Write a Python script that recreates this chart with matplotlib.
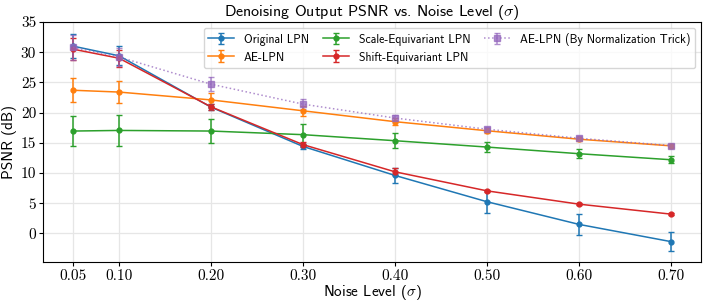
import matplotlib
matplotlib.use("Agg")
import matplotlib.pyplot as plt
import numpy as np

sigma = [0.05, 0.10, 0.20, 0.30, 0.40, 0.50, 0.60, 0.70]
tick_labels = ["0.05", "0.10", "0.20", "0.30", "0.40", "0.50", "0.60", "0.70"]

orig_mean = [31.0, 29.4, 20.9, 14.4, 9.6, 5.25, 1.5, -1.35]
orig_std = [2.0, 1.6, 0.5, 0.4, 1.25, 1.8, 1.75, 1.6]

ae_mean = [23.7, 23.4, 22.1, 20.3, 18.5, 17.0, 15.6, 14.5]
ae_std = [2.0, 1.8, 1.1, 0.8, 0.6, 0.4, 0.3, 0.3]

scale_mean = [16.95, 17.05, 16.95, 16.35, 15.35, 14.3, 13.2, 12.2]
scale_std = [2.5, 2.5, 2.0, 1.7, 1.2, 0.9, 0.7, 0.55]

shift_mean = [30.5, 29.0, 20.95, 14.7, 10.2, 7.05, 4.85, 3.2]
shift_std = [1.8, 1.4, 0.5, 0.4, 0.6, 0.2, 0.15, 0.15]

norm_mean = [30.8, 29.2, 24.7, 21.4, 19.1, 17.25, 15.75, 14.55]
norm_std = [2.1, 1.5, 1.15, 0.85, 0.5, 0.4, 0.3, 0.3]

plt.rcParams['mathtext.fontset'] = 'cm'
plt.rcParams['axes.unicode_minus'] = False

fig, ax = plt.subplots(figsize=(7.08, 3.01), dpi=100)
fig.subplots_adjust(left=0.061, right=0.99, top=0.927, bottom=0.13)

kw = dict(marker='o', markersize=3.5, capsize=2.5, linewidth=1.1, elinewidth=1.1)
ax.errorbar(sigma, orig_mean, yerr=orig_std, color='#1f77b4', label='Original LPN', **kw)
ax.errorbar(sigma, ae_mean, yerr=ae_std, color='#ff7f0e', label='AE-LPN', **kw)
ax.errorbar(sigma, scale_mean, yerr=scale_std, color='#2ca02c', label='Scale-Equivariant LPN', **kw)
ax.errorbar(sigma, shift_mean, yerr=shift_std, color='#d62728', label='Shift-Equivariant LPN', **kw)
ax.errorbar(sigma, norm_mean, yerr=norm_std, color='#9467bd', label='AE-LPN (By Normalization Trick)',
            marker='s', markersize=4, capsize=2.5, linewidth=1.1, elinewidth=1.1,
            linestyle=':', alpha=0.75)

ax.set_xticks(sigma)
ax.set_xticklabels(tick_labels)
ax.set_yticks(np.arange(0, 36, 5))
ax.set_ylim(-4.7, 35)
ax.grid(True, color='#e6e6e6', linewidth=0.9)
ax.set_axisbelow(True)
ax.tick_params(length=3, pad=2, width=0.8)

for lab in ax.get_xticklabels() + ax.get_yticklabels():
    lab.set_fontfamily('cmr10')
    lab.set_fontsize(11)

ax.set_xlabel(r'Noise Level ($\sigma$)', fontfamily='cmss10', fontsize=11, labelpad=0)
ax.set_ylabel('PSNR (dB)', fontfamily='cmss10', fontsize=11, labelpad=3)
ax.set_title(r'Denoising Output PSNR vs. Noise Level ($\sigma$)', fontfamily='cmss10', fontsize=11.5, pad=4)

leg = ax.legend(ncol=3, loc='upper right', prop={'family': 'cmss10', 'size': 8.5},
                framealpha=0.8, borderaxespad=0.5, columnspacing=1.2, handlelength=2.2)

fig.savefig('out.png', dpi=100)
